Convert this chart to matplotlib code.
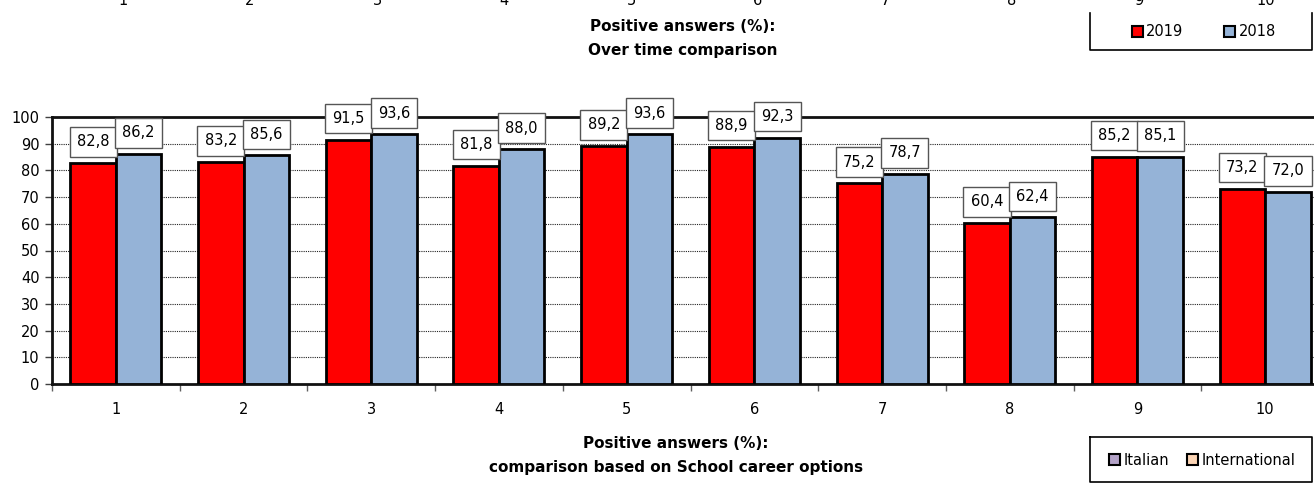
import numpy as np
import matplotlib
matplotlib.use("Agg")
import matplotlib.pyplot as plt
from matplotlib.patches import Patch
from matplotlib.lines import Line2D

plt.rcParams['font.family'] = ['DejaVu Sans']

categories = ["1", "2", "3", "4", "5", "6", "7", "8", "9", "10"]
values_2019 = [82.8, 83.2, 91.5, 81.8, 89.2, 88.9, 75.2, 60.4, 85.2, 73.2]
values_2018 = [86.2, 85.6, 93.6, 88.0, 93.6, 92.3, 78.7, 62.4, 85.1, 72.0]
series_names = ["2019", "2018"]
bottom_legend_names = ["Italian", "International"]
title_top = "Positive answers (%):\nOver time comparison"
title_bottom = "Positive answers (%):\ncomparison based on School career options"
yticks = list(range(0, 101, 10))

RED = "#ff0000"
BLUE = "#95b3d7"
PURPLE = "#b3a2c7"
PEACH = "#fcd5b5"

W, H = 1314, 486
fig = plt.figure(figsize=(W / 100, H / 100), dpi=100)

def fx(px):
    return px / W

def fy(py):
    return 1 - py / H

# main axes
ax = fig.add_axes([fx(52), fy(384), fx(1329 - 52), (384 - 117) / H])
x = np.arange(len(categories))
bw = 0.356
b1 = ax.bar(x - bw / 2, values_2019, bw, color=RED, edgecolor="black", linewidth=2, zorder=3)
b2 = ax.bar(x + bw / 2, values_2018, bw, color=BLUE, edgecolor="black", linewidth=2, zorder=3)

ax.set_xlim(-0.5, len(categories) - 0.5)
ax.set_ylim(0, 100)
ax.set_yticks(yticks)
ax.set_yticklabels([str(t) for t in yticks], fontsize=10.5)
ax.tick_params(axis='y', length=5, width=1, color="#404040", pad=4)
ax.set_xticks(np.arange(-0.5, len(categories), 1.0))
ax.set_xticklabels([])
ax.set_xticks(x, minor=True)
ax.set_xticklabels(categories, minor=True, fontsize=10.5)
ax.tick_params(axis='x', which='major', length=5, width=1, color="#606060")
ax.tick_params(axis='x', which='minor', length=0, pad=13)
ax.yaxis.grid(True, linestyle=(0, (1, 1)), color="#222222", linewidth=0.8, zorder=1)
ax.set_axisbelow(True)
for s in ["top", "left", "bottom"]:
    ax.spines[s].set_linewidth(2)
    ax.spines[s].set_color("#111111")
ax.spines["right"].set_visible(False)

def fmt(v):
    return f"{v:.1f}".replace(".", ",")

for bars, vals in ((b1, values_2019), (b2, values_2018)):
    for rect, v in zip(bars, vals):
        ax.annotate(fmt(v), xy=(rect.get_x() + rect.get_width() / 2, v),
                    xytext=(0, 21), textcoords="offset pixels",
                    ha="center", va="center", fontsize=10.5,
                    bbox=dict(boxstyle="square,pad=0.5", fc="white", ec="#555555", lw=1),
                    annotation_clip=False, zorder=6)

# top (previous chart) tick labels, mostly cut off
ax_top = fig.add_axes([fx(59.5), fy(-7), fx(1270), 0.05])
ax_top.set_xlim(-0.5, len(categories) - 0.5)
ax_top.set_xticks(x)
ax_top.set_xticklabels(categories, fontsize=10.5)
ax_top.tick_params(axis='x', length=0, pad=0)
ax_top.set_yticks([])
for s in ax_top.spines.values():
    s.set_visible(False)
ax_top.patch.set_visible(False)

# titles
fig.text(fx(683), fy(38.5), title_top, ha="center", va="center", fontsize=11,
         fontweight="bold", linespacing=1.75)
fig.text(fx(676), fy(455), title_bottom, ha="center", va="center", fontsize=11,
         fontweight="bold", linespacing=1.75)

# top legend
h_top = [Patch(facecolor=RED, edgecolor="black", linewidth=1.5),
         Patch(facecolor=BLUE, edgecolor="black", linewidth=1.5)]
fig.legend(h_top, series_names, loc="center", bbox_to_anchor=(fx(1204), fy(32)),
           ncol=2, frameon=False, fontsize=10.5, handlelength=0.75, handleheight=0.75,
           handletextpad=0.25, columnspacing=2.8, borderpad=0)
fig.add_artist(Line2D([fx(1090), fx(1090), fx(1312), fx(1312)],
                      [fy(13), fy(50), fy(50), fy(13)], transform=fig.transFigure,
                      color="black", linewidth=1.2))

# bottom legend
h_bot = [Patch(facecolor=PURPLE, edgecolor="black", linewidth=1.5),
         Patch(facecolor=PEACH, edgecolor="black", linewidth=1.5)]
fig.legend(h_bot, bottom_legend_names, loc="center", bbox_to_anchor=(fx(1202), fy(460)),
           ncol=2, frameon=False, fontsize=10.5, handlelength=0.75, handleheight=0.75,
           handletextpad=0.25, columnspacing=1.2, borderpad=0)
fig.add_artist(Line2D([fx(1090), fx(1090), fx(1312), fx(1312), fx(1090)],
                      [fy(437), fy(482), fy(482), fy(437), fy(437)], transform=fig.transFigure,
                      color="black", linewidth=1.2))

fig.savefig("out.png", dpi=100)
